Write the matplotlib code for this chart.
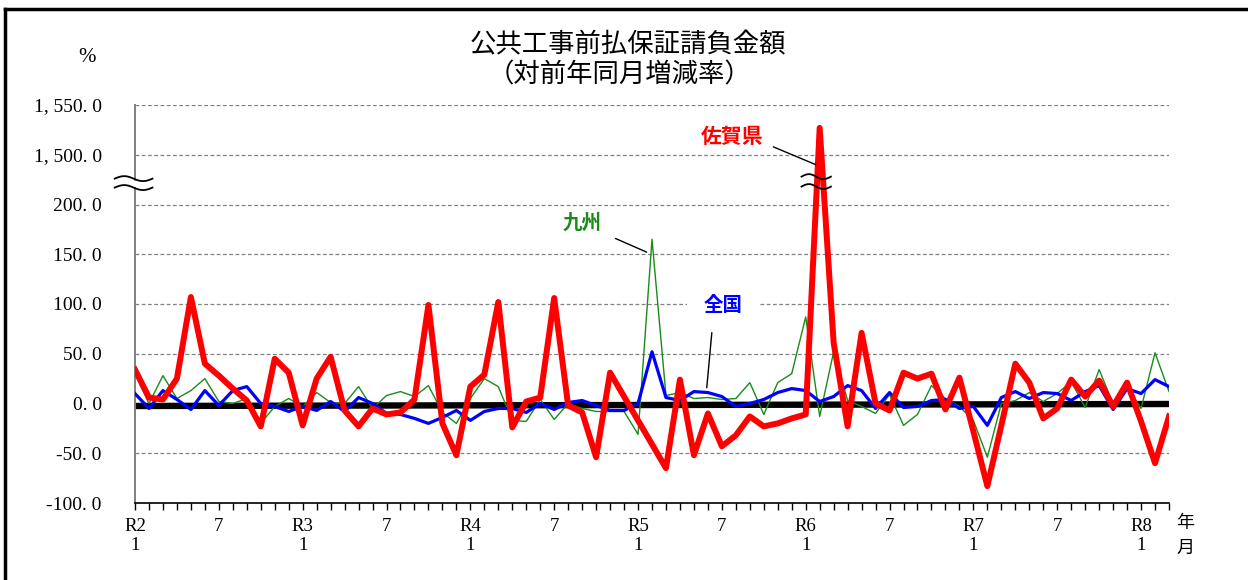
import matplotlib as mpl
mpl.use('Agg')
import matplotlib.pyplot as plt
import numpy as np
from matplotlib.lines import Line2D

# monthly year-on-year change (%), R2.1 .. R8.3
saga = [34, 6, 4, 25, 107, 40, 28, 15, 3, -23, 45, 31,
        -22, 25, 47, -7, -23, -5, -11, -9, 4, 99, -20, -52,
        17, 29, 102, -24, 2, 6, 106, -2, -9, -54, 31, 7,
        -17, -41, -65, 24, -52, -10, -43, -32, -13, -23, -20, -15,
        -11, 1527, 61, -23, 71, 0, -7, 31, 25, 30, -6, 26,
        -28, -83, -22, 40, 21, -15, -5, 24, 7, 23, -3, 21,
        -18, -60, -13]
zenkoku = [10, -5, 13, 4, -6, 13, -2, 13, 17, 0, -3, -8,
           -3, -7, 2, -8, 6, 0, -10, -11, -15, -20, -14, -7,
           -17, -8, -5, -5, -9, 0, -6, 1, 3, -2, -7, -7,
           0, 52, 6, 3, 12, 11, 7, -3, 0, 4, 11, 15,
           13, 2, 7, 18, 13, -5, 11, -4, -3, 3, 4, -5,
           -3, -22, 6, 12, 5, 11, 10, 3, 12, 18, -6, 15,
           10, 24, 17]
kyushu = [30, 0, 28, 5, 13, 25, 2, 0, 5, -20, -3, 5,
          -3, 11, 1, 0, 17, -5, 8, 12, 7, 18, -9, -20,
          5, 25, 17, -17, -18, 4, -16, 0, -5, -8, -8, -8,
          -31, 165, 8, 11, 5, 6, 4, 5, 21, -11, 21, 30,
          87, -13, 52, 3, -3, -10, 9, -22, -11, 18, 5, -3,
          -17, -54, 0, 3, 11, 2, 10, 22, -4, 34, 0, 17,
          -5, 51, 12]
base_line = [-2.5, -0.5]
first_era = 2  # R2

ytick_vals = [-100, -50, 0, 50, 100, 150, 200, 1500, 1550]
ytick_labels = ['-100. 0', '-50. 0', '0. 0', '50. 0', '100. 0', '150. 0',
                '200. 0', '1, 500. 0', '1, 550. 0']

BREAK = 225
OFFSET = 1250


def disp(v):
    return v - OFFSET if v > BREAK else v


n_pts = len(saga)
x = np.arange(n_pts)

fig = plt.figure(figsize=(12.48, 5.8), dpi=100)
ax = fig.add_axes([135 / 1248, 1 - 503 / 580, (1169 - 135) / 1248, (503 - 105) / 580])

serif = 'Liberation Serif'
jp = ['Noto Sans CJK JP', 'DejaVu Sans']

# grid
for v in ytick_vals:
    if v > -100:
        ax.axhline(disp(v), color='#808080', lw=0.9, ls=(0, (3, 2)), zorder=1)

ax.plot([0, n_pts - 1], base_line, color='black', lw=4.6, zorder=2, solid_capstyle='butt')
ax.plot(x, kyushu, color='#1a8a1a', lw=1.0, zorder=3)
ax.plot(x, zenkoku, color='#0000ff', lw=2.3, zorder=4)
ax.plot(x, [disp(v) for v in saga], color='#ff0000', lw=4.3, zorder=5)

ax.set_xlim(0, n_pts - 1)
ax.set_ylim(-100, disp(1550))

ax.spines['top'].set_visible(False)
ax.spines['right'].set_visible(False)
ax.spines['left'].set_color('#808080')
ax.spines['left'].set_linewidth(1.4)
ax.spines['bottom'].set_linewidth(1.2)

ax.set_yticks([disp(v) for v in ytick_vals])
ax.set_yticklabels(ytick_labels, fontfamily=serif, fontsize=14)
ax.tick_params(axis='y', length=0, pad=24)

xlabels = []
for i in x:
    m = i % 12 + 1
    if m == 1:
        xlabels.append('R%d\n1' % (first_era + i // 12))
    elif m == 7:
        xlabels.append('7')
    else:
        xlabels.append('')
ax.set_xticks(x)
ax.set_xticklabels(xlabels, fontfamily=serif, fontsize=13.5, linespacing=1.15)
ax.tick_params(axis='x', length=5, width=1, pad=6, direction='out')

# axis break marks
def wavy(x0, x1, y, **kw):
    xs = np.linspace(x0, x1, 40)
    ys = y + 2.5 * np.sin((xs - x0) / (x1 - x0) * 2 * np.pi)
    ax.plot(xs, ys, color='black', lw=1.3, clip_on=False, zorder=7, **kw)
    return xs, ys


wavy(-1.45, 1.25, 226)
wavy(-1.45, 1.25, 217)
ax.fill_between(np.linspace(-0.25, 0.25, 10), 219, 224, color='white', zorder=6, clip_on=False)
wavy(47.7, 49.8, 228)
wavy(47.7, 49.8, 218)

# annotations
ax.text(42.7, 268, '佐賀県', color='#ff0000', fontsize=15, fontweight='bold',
        fontfamily=jp, ha='center', va='center', zorder=8)
ax.annotate('', xy=(48.9, 239), xytext=(45.5, 259),
            arrowprops=dict(arrowstyle='-', color='black', lw=1.0), zorder=8)
ax.text(32.0, 181, '九州', color='#1a8a1a', fontsize=14, fontweight='bold',
        fontfamily=jp, ha='center', va='center', zorder=8)
ax.annotate('', xy=(36.8, 151), xytext=(34.2, 167),
            arrowprops=dict(arrowstyle='-', color='black', lw=1.0), zorder=8)
ax.text(42.1, 98, '全国', color='#0000ff', fontsize=14, fontweight='bold',
        fontfamily=jp, ha='center', va='center', zorder=8,
        bbox=dict(facecolor='white', edgecolor='none', pad=12))
ax.annotate('', xy=(40.9, 13), xytext=(41.3, 74),
            arrowprops=dict(arrowstyle='-', color='black', lw=1.0), zorder=8)

# titles and units
fig.text(628 / 1248, 1 - 45 / 580, '公共工事前払保証請負金額', fontsize=19,
         fontfamily=jp, ha='center', va='center')
fig.text(620 / 1248, 1 - 75 / 580, '（対前年同月増減率）', fontsize=19,
         fontfamily=jp, ha='center', va='center')
fig.text(87 / 1248, 1 - 57 / 580, '%', fontsize=15, fontfamily=serif, ha='center', va='center')
fig.text(1185 / 1248, 1 - 523 / 580, '年', fontsize=13, fontfamily=jp, ha='center', va='center')
fig.text(1185 / 1248, 1 - 548 / 580, '月', fontsize=13, fontfamily=jp, ha='center', va='center')

# outer frame
fig.add_artist(Line2D([5 / 1248, 5 / 1248], [0, 1 - 9 / 580], color='black', lw=2.5))
fig.add_artist(Line2D([5 / 1248, 1], [1 - 9 / 580, 1 - 9 / 580], color='black', lw=2.5))

fig.savefig('out.png', dpi=100)
